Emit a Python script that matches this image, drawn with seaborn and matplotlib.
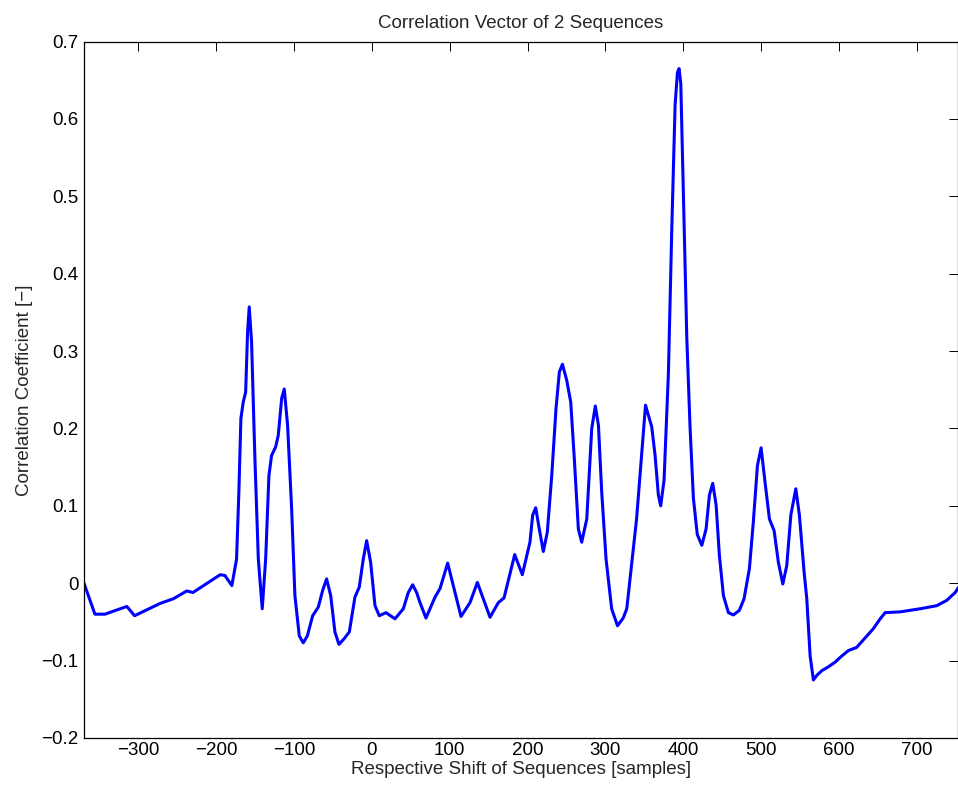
import numpy as np
import pandas as pd
import matplotlib
matplotlib.use("Agg")
import matplotlib.pyplot as plt
import seaborn as sns

# Cross-correlation of two sequences: lag (samples) vs. correlation coefficient
shift = [
    -370, -363, -356, -343, -315, -305, -272, -255, -238, -230,
    -195, -189, -180, -174, -171, -168.4, -165.4, -162.3, -159.8, -157.7,
    -154.7, -150.4, -146, -141, -136.6, -132.4, -129, -123.8, -120.4, -116,
    -112.7, -108.4, -103.2, -99, -93.4, -88.3, -83, -76.2, -69, -63.4,
    -58.3, -53, -47.6, -42.4, -36, -29.1, -21.9, -16.3, -11.2, -6.8,
    -1.7, 3.9, 9.4, 18, 29.6, 40.3, 46.7, 52.3, 57.4, 61.7,
    69.4, 81, 87.4, 97.3, 114.4, 126, 135.4, 151.7, 162.4, 169.7,
    183.4, 193.2, 203, 206.5, 210.4, 215, 220.2, 225.3, 231, 236.5,
    240.8, 244.7, 250.3, 255.4, 260, 265.2, 269.5, 276, 282.4, 287,
    291, 295.2, 300.8, 308, 315.5, 322.8, 327.4, 340, 351.5, 359.5,
    363.8, 368, 371, 375.3, 380.9, 385.2, 389.5, 392.5, 394.6, 396.8,
    400.2, 404.5, 408.7, 413, 418, 423.8, 429.3, 433.6, 437.9, 442.2,
    446.4, 451.6, 458, 464.4, 472.1, 478.1, 485, 490, 495.3, 500,
    505, 510.7, 516.7, 522.2, 527.9, 533, 538.2, 544.6, 549.2, 555.3,
    558.7, 563, 567.2, 571.6, 578, 586.5, 595.1, 603.7, 612.2, 622.7,
    644, 653, 659.4, 678.7, 704.4, 725.8, 738.7, 749.4, 753.2,
]
corr = [
    0.000, -0.020, -0.040, -0.040, -0.030, -0.042, -0.026, -0.020, -0.010, -0.012,
    0.011, 0.010, -0.003, 0.031, 0.118, 0.213, 0.234, 0.247, 0.325, 0.357,
    0.312, 0.161, 0.031, -0.033, 0.031, 0.139, 0.165, 0.176, 0.191, 0.239,
    0.251, 0.204, 0.096, -0.016, -0.068, -0.077, -0.068, -0.042, -0.031, -0.0095,
    0.0056, -0.016, -0.063, -0.079, -0.072, -0.063, -0.018, -0.005, 0.031, 0.055,
    0.027, -0.029, -0.042, -0.038, -0.046, -0.033, -0.012, -0.002, -0.012, -0.025,
    -0.045, -0.018, -0.007, 0.026, -0.043, -0.025, 0.001, -0.044, -0.025, -0.019,
    0.037, 0.011, 0.053, 0.088, 0.0975, 0.070, 0.041, 0.066, 0.139, 0.226,
    0.273, 0.283, 0.262, 0.234, 0.161, 0.070, 0.053, 0.083, 0.200, 0.229,
    0.204, 0.118, 0.031, -0.033, -0.055, -0.045, -0.033, 0.083, 0.230, 0.202,
    0.165, 0.114, 0.100, 0.133, 0.2715, 0.456, 0.618, 0.660, 0.665, 0.646,
    0.502, 0.318, 0.202, 0.110, 0.063, 0.049, 0.070, 0.114, 0.129, 0.101,
    0.036, -0.016, -0.038, -0.041, -0.035, -0.020, 0.019, 0.079, 0.152, 0.175,
    0.131, 0.083, 0.068, 0.027, -0.001, 0.023, 0.088, 0.122, 0.088, 0.014,
    -0.020, -0.094, -0.125, -0.119, -0.113, -0.108, -0.102, -0.094, -0.087, -0.083,
    -0.059, -0.046, -0.038, -0.037, -0.033, -0.029, -0.022, -0.012, -0.006,
]

x_ticks = [-300, -200, -100, 0, 100, 200, 300, 400, 500, 600, 700]
x_tick_labels = ["\u2212300", "\u2212200", "\u2212100", "0", "100", "200", "300",
                 "400", "500", "600", "700"]
y_ticks = [-0.2, -0.1, 0.0, 0.1, 0.2, 0.3, 0.4, 0.5, 0.6, 0.7]
y_tick_labels = ["\u22120.2", "\u22120.1", "0", "0.1", "0.2", "0.3", "0.4",
                 "0.5", "0.6", "0.7"]

df = pd.DataFrame({"shift": shift, "corr": corr})

sns.set_style("white")
plt.rcParams["font.family"] = ["Liberation Sans", "DejaVu Sans"]

fig = plt.figure(figsize=(9.58, 7.87), dpi=100)
ax = fig.add_axes([84 / 958, 49 / 787, 874 / 958, 696.5 / 787])

sns.lineplot(data=df, x="shift", y="corr", ax=ax, color="#0000ff",
             linewidth=2.2, sort=False, estimator=None)
for line in ax.get_lines():
    line.set_solid_joinstyle("round")
    line.set_solid_capstyle("round")

ax.set_xlim(-370, 753)
ax.set_ylim(-0.2, 0.7)
ax.set_xticks(x_ticks)
ax.set_xticklabels(x_tick_labels)
ax.set_yticks(y_ticks)
ax.set_yticklabels(y_tick_labels)

ax.tick_params(direction="in", top=True, right=True, length=6.5, width=0.7,
               labelsize=13.5, colors="black")
ax.tick_params(axis="x", pad=3)
ax.tick_params(axis="y", pad=4)
for side in ["left", "right", "top", "bottom"]:
    ax.spines[side].set_visible(True)
    ax.spines[side].set_color("black")
    ax.spines[side].set_linewidth(0.9)

ax.set_title("Correlation Vector of 2 Sequences", fontsize=13.5, pad=10)
ax.set_xlabel("Respective Shift of Sequences [samples]", fontsize=13.5, labelpad=1)
ax.set_ylabel("Correlation Coefficient [\u2212]", fontsize=13.5, labelpad=6)

fig.savefig("out.png", dpi=100, facecolor="white")
